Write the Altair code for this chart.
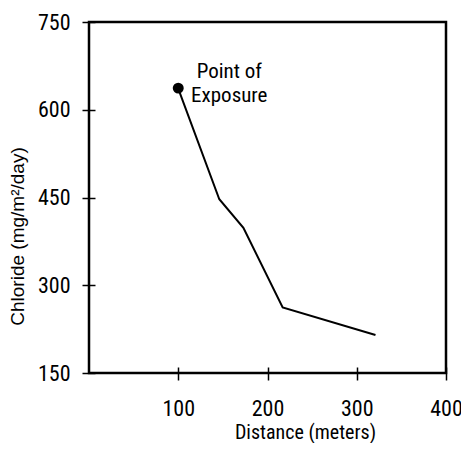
import altair as alt
import pandas as pd

distance = [100, 146, 173, 217, 321]
chloride = [636, 447, 398, 262, 215]
point_x = [100]
point_y = [637]
note = ["Point of\nExposure"]
x_ticks = [100, 200, 300, 400]
y_ticks = [150, 300, 450, 600, 750]

FONT = "Roboto Condensed"

line_df = pd.DataFrame({"d": distance, "c": chloride})
pt_df = pd.DataFrame({"d": point_x, "c": point_y, "t": note})

x = alt.X("d:Q", scale=alt.Scale(domain=[0, 400], nice=False),
          axis=alt.Axis(values=x_ticks, title="Distance (meters)", titleX=216, titlePadding=3,
                        titleFontSize=20, labelPadding=18, labelFlush=False))
y = alt.Y("c:Q", scale=alt.Scale(domain=[150, 750], nice=False),
          axis=alt.Axis(values=y_ticks, title="Chloride (mg/m²/day)", titleY=214, titlePadding=10,
                        titleFont="Liberation Sans", titleFontSize=19, labelPadding=12))

line = alt.Chart(line_df).mark_line(color="black", strokeWidth=2).encode(x=x, y=y)
dot = alt.Chart(pt_df).mark_point(filled=True, color="black", size=120, opacity=1, shape="circle").encode(x=x, y=y)
label = alt.Chart(pt_df).mark_text(font=FONT, fontSize=21, dx=51, dy=-16, baseline="middle",
                                   align="center", lineBreak="\n", lineHeight=24, color="black").encode(
    x=x, y=y, text="t:N")

chart = (line + dot + label).properties(
    width=357, height=351,
    autosize=alt.AutoSizeParams(type="none"),
    padding={"left": 81, "top": 14, "right": 15, "bottom": 70},
).configure_view(stroke="black", strokeWidth=2.5).configure_axis(
    domain=False, grid=False, tickSize=13, offset=-6, tickColor="black", tickWidth=1.5,
    labelFont=FONT, labelFontSize=22, labelColor="black",
    titleFont=FONT, titleFontWeight="normal", titleColor="black",
)

chart.save("out.html", embed_options={"renderer": "svg", "actions": False})
